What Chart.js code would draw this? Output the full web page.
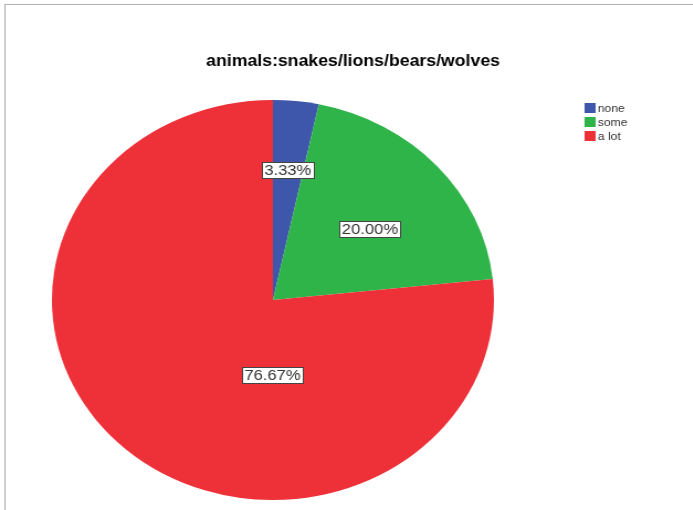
<!DOCTYPE html>
<html>
<head>
<meta charset="utf-8">
<script src="https://cdn.jsdelivr.net/npm/chart.js@4.4.1/dist/chart.umd.min.js"></script>
<style>
    html, body { margin: 0; padding: 0; background: #fff; }
    body { width: 693px; height: 510px; position: relative; overflow: hidden; }
    /* the grey frame round the output pane */
    #frame {
        position: absolute; left: 4px; top: 4px; right: 0; bottom: 0;
        border-left: 2px solid #d0d0d0;
        border-top: 1px solid #b0b0b0;
    }
    /* the reference is stretched sideways, so the whole canvas is too */
    #chart1 {
        position: absolute; left: 0; top: 0;
        transform: scaleX(1.105); transform-origin: 0 0;
    }
</style>
</head>
<body>
<div id="frame"></div>
<canvas id="chart1" width="627" height="510"></canvas>
<script>
const chartTitle = 'animals:snakes/lions/bears/wolves';
const categories = ['none', 'some', 'a lot'];
const percents = [3.33, 20.00, 76.67];
const sliceColors = ['#3f57ab', '#2fb44a', '#ee3039'];

document.addEventListener('DOMContentLoaded', () => {
    const ctx1 = document.getElementById('chart1').getContext('2d');

    // title, legend and boxed percentage labels, drawn on top of the pie
    const spssDecor = {
        id: 'spssDecor',
        afterDraw(chart, args, opts) {
            const ctx = chart.ctx;
            const meta = chart.getDatasetMeta(0);
            ctx.save();

            // title
            ctx.font = 'bold 16px "Liberation Sans", Arial, sans-serif';
            ctx.fillStyle = '#000';
            ctx.textAlign = 'center';
            ctx.textBaseline = 'middle';
            ctx.fillText(chartTitle, opts.titleX, opts.titleY);

            // legend
            ctx.font = '11px "Liberation Sans", Arial, sans-serif';
            ctx.textAlign = 'left';
            categories.forEach((name, i) => {
                const y = opts.legendY + i * opts.legendStep;
                ctx.fillStyle = sliceColors[i];
                ctx.fillRect(opts.legendX, y, 10, 10);
                ctx.fillStyle = '#333';
                ctx.fillText(name, opts.legendX + 12, y + 5.5);
            });

            // value labels
            ctx.font = '15px "Liberation Sans", Arial, sans-serif';
            ctx.textAlign = 'center';
            meta.data.forEach((arc, i) => {
                const r = arc.outerRadius;
                const x = arc.x + opts.spots[i][0] * r;
                const y = arc.y + opts.spots[i][1] * r;
                const text = percents[i].toFixed(2) + '%';
                const w = ctx.measureText(text).width + 4;
                const h = 16;
                ctx.fillStyle = '#fff';
                ctx.fillRect(Math.round(x - w / 2) + 0.5, Math.round(y - h / 2) + 0.5, Math.round(w), h);
                ctx.strokeStyle = '#444';
                ctx.lineWidth = 1;
                ctx.strokeRect(Math.round(x - w / 2) + 0.5, Math.round(y - h / 2) + 0.5, Math.round(w), h);
                ctx.fillStyle = '#333';
                ctx.fillText(text, x, y + 1);
            });
            ctx.restore();
        }
    };

    new Chart(ctx1, {
        type: 'pie',
        data: {
            labels: categories,
            datasets: [{
                data: percents,
                backgroundColor: sliceColors,
                borderWidth: 0,
                clip: false
            }]
        },
        options: {
            responsive: false,
            animation: false,
            events: [],
            layout: {
                padding: { top: 100, bottom: 10, left: 47, right: 180 }
            },
            plugins: {
                legend: { display: false },
                tooltip: { enabled: false },
                spssDecor: {
                    titleX: 319.5,
                    titleY: 62,
                    legendX: 529,
                    legendY: 103,
                    legendStep: 14,
                    spots: [[0.067, -0.65], [0.439, -0.355], [-0.002, 0.375]]
                }
            }
        },
        plugins: [spssDecor]
    });
});
</script>
</body>
</html>
